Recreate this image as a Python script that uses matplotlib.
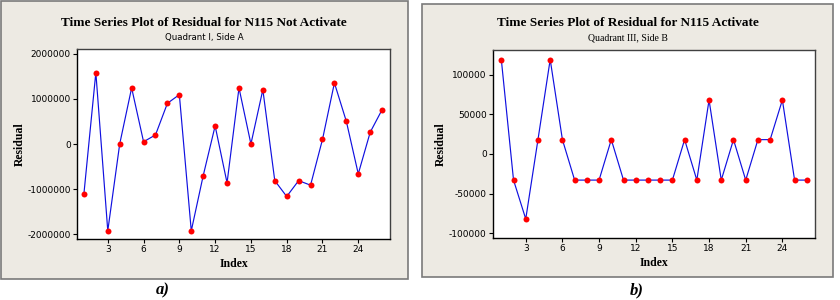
import matplotlib
matplotlib.use("Agg")
import matplotlib.pyplot as plt
from matplotlib.patches import Rectangle

index = list(range(1, 27))
resid_not_activate = [-1100000, 1580000, -1920000, 0, 1240000, 50000, 200000, 900000,
                      1090000, -1920000, -700000, 400000, -860000, 1240000, 0, 1200000,
                      -810000, -1160000, -810000, -910000, 100000, 1350000, 500000,
                      -660000, 260000, 760000]
resid_activate = [119000, -33000, -82000, 18000, 119000, 18000, -33000, -33000, -33000,
                  18000, -33000, -33000, -33000, -33000, -33000, 18000, -33000, 68000,
                  -33000, 18000, -33000, 18000, 18000, 68000, -33000, -33000]
xticks = [3, 6, 9, 12, 15, 18, 21, 24]
yticks_a = [-2000000, -1000000, 0, 1000000, 2000000]
yticks_b = [-100000, -50000, 0, 50000, 100000]

W, H = 840, 300
fig = plt.figure(figsize=(8.4, 3.0), dpi=100)
fig.patch.set_facecolor("white")

BG = "#EDEAE3"

def frame(x0, y0, x1, y1):
    fig.patches.append(Rectangle((x0 / W, 1 - y1 / H), (x1 - x0) / W, (y1 - y0) / H,
                                 transform=fig.transFigure, facecolor=BG,
                                 edgecolor="#7a7a7a", linewidth=1.2, zorder=-5))

def add_ax(l, t, r, b):
    ax = fig.add_axes([l / W, 1 - b / H, (r - l) / W, (b - t) / H])
    ax.set_zorder(5)
    return ax

serif = "Liberation Serif"
sans = "DejaVu Sans"

frame(1, 1, 408, 279)
frame(422, 4, 833, 277)

panels = [
    dict(ax=(77, 49, 390, 239), y=resid_not_activate, yt=yticks_a, ylim=(-2100000, 2100000),
         title="Time Series Plot of Residual for N115 Not Activate",
         sub="Quadrant I, Side A", subfont=sans, subsize=6.2, cx=204, ylx=20, lab="a)", labx=163,
         xlim=(0.42, 26.66)),
    dict(ax=(493, 50, 815, 238), y=resid_activate, yt=yticks_b, ylim=(-106000, 131000),
         title="Time Series Plot of Residual for N115 Activate",
         sub="Quadrant III, Side B", subfont=serif, subsize=7, cx=628, ylx=441, lab="b)", labx=637,
         xlim=(0.32, 26.67)),
]

for p in panels:
    ax = add_ax(*p["ax"])
    ax.set_facecolor("white")
    ax.plot(index, p["y"], color="#1010E0", linewidth=0.85, zorder=2)
    ax.plot(index, p["y"], "o", color="#FF0000", markersize=4.3, markeredgewidth=0, zorder=3)
    ax.set_xlim(*p["xlim"])
    ax.set_ylim(*p["ylim"])
    ax.set_xticks(xticks)
    ax.set_yticks(p["yt"])
    ax.set_yticklabels([str(v) for v in p["yt"]])
    ax.tick_params(direction="out", length=3, width=0.8, labelsize=6.5, pad=1.5)
    for lbl in ax.get_xticklabels() + ax.get_yticklabels():
        lbl.set_fontfamily(sans)
    for s in ax.spines.values():
        s.set_linewidth(1.0)
        s.set_color("black")
    ax.spines["right"].set_color("#404040")
    ax.spines["top"].set_color("#404040")
    ax.set_xlabel("Index", fontfamily=serif, fontweight="bold", fontsize=8.5, labelpad=2.5)
    fig.text(p["ylx"] / W, 1 - (p["ax"][1] + p["ax"][3]) / 2 / H, "Residual", rotation=90,
             ha="center", va="center", fontfamily=serif, fontweight="bold", fontsize=8.5)
    fig.text(p["cx"] / W, 1 - 23 / H, p["title"], ha="center", va="center",
             fontfamily=serif, fontweight="bold", fontsize=9.5)
    fig.text(p["cx"] / W, 1 - 37.5 / H, p["sub"], ha="center", va="center",
             fontfamily=p["subfont"], fontsize=p["subsize"])
    fig.text(p["labx"] / W, 1 - 298 / H, p["lab"], ha="center", va="bottom",
             fontfamily=serif, fontweight="bold", fontstyle="italic", fontsize=12)

fig.savefig("out.png", dpi=100, facecolor="white")
